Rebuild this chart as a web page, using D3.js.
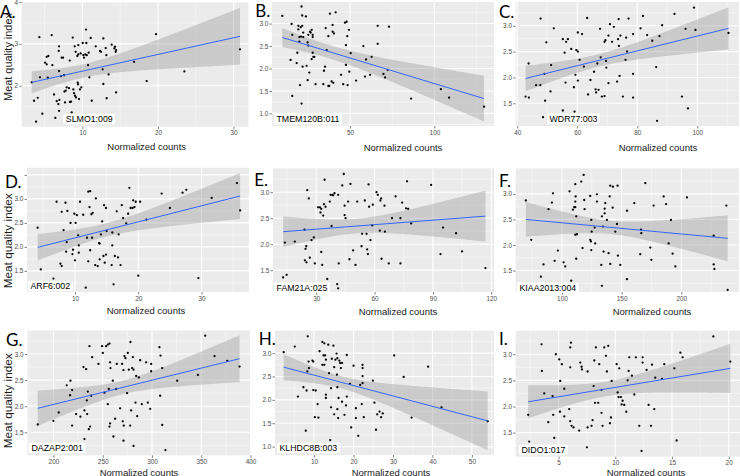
<!DOCTYPE html>
<html><head><meta charset="utf-8">
<script src="https://cdn.jsdelivr.net/npm/d3@7"></script>
<style>body{margin:0;background:#fff}svg{display:block}</style>
</head><body>
<svg id="c" width="740" height="476"></svg>
<script>
// ---------------- DATA ----------------
const pointsA = [[3.30,2.08],[3.61,1.64],[4.10,1.71],[3.88,1.14],[4.32,3.16],[4.40,2.20],[4.71,1.33],[5.07,2.55],[5.29,2.51],[5.29,2.69],[5.51,2.71],[5.42,2.19],[5.95,3.21],[6.04,2.49],[6.26,1.79],[6.43,1.23],[6.61,1.63],[6.83,1.56],[6.92,2.94],[6.88,2.83],[6.92,2.35],[6.92,1.40],[6.96,1.66],[7.27,2.67],[7.45,2.67],[7.18,2.23],[7.58,2.25],[7.63,1.86],[7.80,1.88],[7.71,1.60],[7.93,1.96],[8.24,1.94],[8.33,2.60],[8.37,1.61],[8.51,1.62],[8.59,1.36],[8.73,3.15],[8.81,1.91],[8.90,1.82],[8.99,2.94],[9.03,1.76],[9.12,2.81],[9.16,1.72],[9.34,2.71],[9.39,2.07],[9.43,2.03],[9.47,2.75],[9.47,2.97],[9.56,1.68],[9.69,1.91],[9.78,2.77],[9.87,1.96],[10.05,3.02],[10.14,2.73],[10.22,2.67],[10.40,2.75],[10.49,3.34],[10.53,3.02],[10.58,2.73],[10.76,2.49],[10.93,2.20],[10.84,2.79],[11.11,3.14],[11.24,1.64],[11.77,2.94],[12.34,2.83],[12.47,2.81],[12.69,2.39],[12.78,3.13],[12.78,2.04],[13.09,2.90],[13.18,2.73],[13.22,1.70],[13.48,2.27],[13.88,2.98],[14.24,2.89],[14.32,2.93],[14.41,2.81],[14.46,1.84],[14.46,2.85],[16.84,2.57],[18.51,2.11],[19.75,3.23],[23.50,2.34],[30.86,2.87]];
const pointsB = [[9.9,3.17],[15.4,2.99],[15.8,2.75],[14.8,2.19],[15.8,1.39],[18.4,2.12],[18.8,2.35],[19.4,2.95],[19.4,2.87],[20.0,2.70],[20.0,2.60],[20.4,1.63],[20.8,2.92],[21.0,2.71],[21.3,3.38],[21.3,1.22],[21.7,3.18],[21.7,2.95],[21.9,2.04],[22.3,2.70],[22.3,2.80],[23.9,3.16],[24.3,2.06],[24.9,2.58],[24.9,1.74],[25.3,2.75],[25.3,2.51],[25.9,1.91],[26.3,2.82],[26.7,2.80],[27.3,2.21],[27.3,2.86],[27.9,2.75],[27.9,2.70],[27.9,2.35],[28.3,2.26],[28.9,2.26],[29.6,1.65],[34.2,1.65],[34.6,1.95],[35.2,2.04],[35.6,2.90],[36.2,2.41],[37.2,1.61],[37.2,2.72],[38.1,3.22],[37.7,1.61],[39.1,1.71],[39.7,2.82],[39.7,2.97],[40.5,2.78],[40.1,1.68],[41.5,3.25],[44.7,1.86],[46.0,1.65],[47.0,3.02],[47.6,2.52],[47.6,2.08],[48.0,3.04],[48.4,2.72],[48.6,1.63],[49.4,2.86],[49.6,1.93],[50.4,2.34],[53.6,1.73],[57.9,2.50],[58.9,1.82],[59.5,2.20],[61.9,1.86],[62.8,2.26],[66.4,2.95],[66.4,2.55],[69.8,1.88],[70.8,1.80],[72.3,1.97],[73.1,2.93],[86.2,1.33],[103.8,1.54],[108.7,1.35],[129.4,1.15]];
const pointsC = [[42.8,1.63],[43.9,1.61],[43.8,2.27],[46.3,1.85],[47.7,1.85],[47.8,3.14],[48.6,1.23],[49.1,2.07],[49.3,1.55],[49.7,2.68],[51.1,1.73],[51.3,2.24],[52.2,2.95],[55.2,2.74],[55.2,1.36],[55.8,2.48],[56.1,1.90],[56.3,2.69],[56.9,2.74],[58.0,2.55],[58.9,1.81],[59.1,1.34],[59.4,2.05],[59.7,2.53],[60.2,2.87],[60.2,2.50],[60.2,1.94],[60.8,2.34],[61.6,2.84],[62.2,2.21],[63.3,3.15],[63.6,1.67],[64.4,1.95],[65.6,2.11],[66.1,1.77],[66.3,1.71],[66.7,2.27],[67.1,1.76],[67.6,2.94],[67.8,2.39],[68.2,1.63],[69.1,1.64],[69.1,2.69],[69.4,2.72],[69.6,2.32],[69.7,2.19],[70.4,1.89],[70.4,2.81],[70.9,3.03],[71.6,2.69],[72.2,2.98],[73.3,1.92],[73.6,2.74],[73.8,3.13],[73.9,2.61],[74.1,2.03],[74.4,2.81],[75.2,1.63],[76.1,2.34],[76.3,2.77],[76.6,2.50],[77.1,3.14],[78.6,2.84],[78.6,2.07],[78.6,1.61],[81.1,2.95],[81.9,3.19],[83.3,2.82],[85.0,2.71],[86.3,2.20],[86.6,1.16],[87.4,2.80],[88.3,3.01],[92.4,3.23],[94.9,1.63],[96.1,2.94],[96.9,1.40],[98.9,3.35],[99.4,2.92],[110.4,2.86]];
const pointsD = [[4.1,2.40],[4.6,1.53],[6.6,1.34],[7.1,2.94],[7.7,1.65],[7.9,1.60],[7.9,2.73],[8.2,2.35],[8.5,2.92],[8.6,1.90],[8.7,2.10],[8.8,2.75],[9.3,2.50],[9.6,1.85],[9.7,1.94],[9.9,2.69],[10.0,1.72],[10.1,2.50],[10.3,2.66],[10.5,2.24],[10.6,2.03],[10.6,1.88],[10.8,2.94],[11.3,2.67],[11.7,1.15],[11.9,2.19],[12.1,3.15],[12.4,3.16],[12.1,1.70],[12.3,2.83],[12.4,1.93],[12.6,2.68],[12.8,2.71],[12.7,2.19],[13.2,1.62],[13.3,3.01],[13.6,1.60],[13.8,2.08],[13.9,2.07],[13.9,1.74],[14.1,2.26],[14.3,2.53],[14.5,1.81],[14.6,2.87],[14.7,1.67],[14.9,2.81],[14.9,1.84],[15.0,2.33],[15.8,1.62],[15.9,2.03],[15.9,2.30],[16.1,1.22],[16.3,1.81],[16.6,2.74],[16.8,1.78],[16.9,2.26],[17.2,1.62],[17.4,2.87],[17.6,2.60],[18.1,2.49],[18.4,2.69],[18.6,3.23],[18.8,2.81],[19.1,2.81],[19.2,2.97],[19.4,2.83],[19.6,2.94],[20.0,1.40],[20.3,2.94],[21.3,2.57],[23.7,3.11],[25.0,2.81],[27.0,3.13],[27.6,3.19],[29.5,1.35],[31.6,3.02],[35.6,3.33],[36.1,2.76]];
const pointsE = [[13.0,1.36],[13.9,2.03],[14.8,1.41],[19.0,2.05],[24.0,2.28],[24.2,1.69],[24.5,1.91],[24.9,1.96],[25.0,1.65],[25.4,3.04],[26.2,2.88],[26.7,1.74],[27.6,2.08],[28.8,2.13],[29.3,1.63],[31.0,2.71],[31.9,2.71],[32.2,2.61],[32.6,2.68],[32.6,1.85],[33.1,1.60],[33.6,2.55],[34.0,2.77],[34.3,3.24],[34.8,2.72],[35.7,1.33],[37.0,2.82],[37.4,2.95],[37.9,2.35],[38.2,2.95],[38.7,2.94],[39.4,2.98],[40.8,1.23],[41.3,1.15],[41.3,2.95],[41.6,1.63],[43.4,3.13],[44.2,3.35],[44.6,2.74],[44.6,2.56],[45.1,2.50],[46.4,2.82],[47.1,1.71],[47.6,3.16],[49.0,1.88],[50.2,1.60],[51.1,2.82],[53.3,1.96],[53.6,2.20],[55.0,2.84],[55.9,2.20],[56.2,1.90],[56.6,1.81],[56.9,3.15],[57.2,2.72],[57.9,2.08],[58.8,2.36],[59.1,2.76],[61.0,3.00],[61.7,2.95],[62.7,2.26],[63.0,2.84],[63.4,2.88],[63.6,1.72],[65.1,2.74],[65.3,2.24],[67.3,1.63],[69.0,2.50],[70.8,2.92],[73.3,2.50],[73.3,1.63],[74.2,2.80],[76.2,2.69],[76.7,3.21],[77.3,2.68],[78.8,2.40],[89.1,3.14],[93.9,1.81],[95.2,2.32],[101.9,2.21],[105.0,1.86],[117.0,1.54]];
const pointsF = [[69.8,2.87],[74.3,2.10],[82.4,1.38],[84.6,1.62],[88.8,2.70],[91.6,2.83],[92.5,3.01],[93.9,1.69],[96.6,1.89],[101.4,1.66],[102.8,1.58],[106.4,3.05],[107.8,1.30],[109.2,2.69],[110.3,2.74],[111.2,3.19],[111.2,2.74],[111.2,2.85],[111.5,2.95],[111.2,2.20],[112.0,2.56],[112.6,2.21],[112.0,1.73],[116.2,3.24],[117.3,1.94],[118.2,3.37],[118.7,2.88],[119.0,2.70],[123.7,2.96],[123.7,2.10],[124.3,2.07],[124.6,2.49],[124.9,2.26],[124.6,1.90],[127.4,2.34],[127.9,2.03],[129.3,2.99],[129.3,2.85],[133.0,1.61],[133.5,2.56],[133.5,1.20],[134.4,2.36],[134.9,1.87],[135.8,2.71],[135.8,2.62],[136.3,2.82],[137.7,2.49],[139.1,1.84],[140.0,2.95],[140.5,3.16],[140.5,1.63],[142.5,2.73],[142.7,3.14],[144.7,2.26],[146.1,2.41],[146.6,3.16],[146.9,1.79],[148.9,1.61],[154.5,1.33],[154.5,2.67],[160.6,2.82],[165.6,1.82],[166.2,2.30],[166.5,2.23],[169.8,3.21],[174.0,1.95],[174.9,1.71],[176.8,2.77],[185.2,2.95],[187.2,2.80],[189.4,2.03],[191.3,2.49],[192.7,1.83],[195.0,1.58],[204.7,2.93],[227.1,2.18],[227.1,1.62],[227.7,1.53],[237.7,2.77],[238.8,1.12]];
const pointsG = [[184.1,1.65],[200.0,1.72],[205.4,1.88],[213.5,2.40],[216.9,2.21],[217.3,2.49],[219.0,2.31],[219.0,1.63],[223.0,1.85],[227.4,1.80],[230.5,2.75],[231.5,1.92],[231.5,1.37],[233.2,2.71],[233.9,2.11],[234.2,1.85],[234.9,2.28],[235.9,1.56],[236.6,3.15],[237.2,1.61],[238.3,2.20],[239.3,2.94],[245.7,2.81],[249.4,3.15],[250.1,3.02],[251.8,2.26],[253.5,3.15],[255.2,3.18],[255.2,2.04],[256.2,2.33],[256.9,3.20],[256.9,1.61],[257.5,2.84],[257.9,2.73],[257.5,1.67],[260.3,2.49],[260.9,1.42],[262.6,1.76],[263.6,2.33],[264.3,2.81],[267.7,1.96],[269.7,2.81],[270.4,1.71],[271.1,2.69],[271.1,1.34],[271.4,1.63],[272.1,2.96],[273.1,2.92],[274.8,2.25],[275.5,3.02],[276.5,2.70],[277.9,1.63],[278.2,3.23],[278.9,1.92],[279.9,2.73],[280.6,2.94],[281.3,2.70],[281.3,1.24],[283.3,2.07],[284.0,2.58],[285.0,1.81],[286.7,2.55],[288.0,2.88],[289.7,2.04],[294.1,2.84],[295.8,2.07],[298.2,1.95],[299.2,2.81],[299.2,2.67],[307.6,3.13],[308.3,2.20],[308.7,2.97],[310.4,2.73],[310.4,1.64],[313.7,1.16],[325.6,2.49],[346.6,2.60],[354.0,3.35],[363.5,2.96],[376.4,2.87],[388.9,2.76]];
const pointsH = [[2.3,3.02],[5.1,3.14],[5.9,2.07],[7.3,2.27],[7.9,1.34],[8.1,2.20],[8.3,2.61],[8.4,3.36],[8.6,2.82],[8.7,2.68],[9.6,2.84],[9.8,2.82],[9.8,2.21],[10.2,1.63],[10.4,2.20],[10.9,1.91],[11.1,1.62],[11.4,3.04],[12.1,3.24],[12.1,2.75],[12.4,2.95],[12.6,2.75],[12.6,3.21],[12.8,2.95],[13.0,2.86],[13.0,2.04],[13.0,2.11],[13.6,3.18],[13.8,2.57],[14.1,1.14],[14.3,2.25],[14.3,1.84],[14.5,2.88],[14.9,3.16],[15.1,1.69],[15.1,2.70],[15.4,2.86],[15.7,2.99],[15.8,2.54],[15.9,2.89],[15.9,2.27],[15.9,1.80],[16.1,1.61],[16.2,2.04],[16.4,2.84],[16.6,2.79],[16.8,2.68],[17.1,2.79],[17.1,1.96],[17.7,1.68],[18.1,1.88],[18.3,2.07],[18.3,2.96],[19.1,2.34],[19.4,1.41],[20.0,2.73],[20.6,1.82],[20.6,1.61],[21.2,1.23],[21.7,2.32],[22.1,1.91],[22.3,2.75],[22.3,2.68],[22.3,2.51],[22.3,2.36],[22.6,1.63],[24.9,2.41],[25.3,1.94],[25.7,1.36],[26.0,1.69],[26.6,1.75],[27.0,1.63],[27.4,1.71],[30.3,2.95],[32.7,2.49],[34.7,1.62],[38.9,2.71],[42.3,1.84],[54.0,1.54]];
const pointsI = [[2.32,1.84],[2.41,1.33],[3.50,3.19],[3.53,2.68],[3.74,2.25],[4.09,1.70],[4.47,2.20],[4.53,1.84],[4.62,1.40],[4.76,3.00],[5.06,2.90],[5.12,1.90],[5.15,2.49],[5.29,2.81],[5.50,2.34],[5.50,1.81],[5.94,1.95],[6.03,3.13],[6.09,3.22],[6.03,2.75],[6.03,1.72],[6.15,1.63],[6.32,1.60],[6.82,1.54],[6.91,2.84],[7.03,2.76],[7.06,2.71],[7.50,1.22],[7.56,2.67],[7.56,1.60],[7.91,1.63],[8.00,1.74],[8.09,2.39],[8.15,2.88],[8.21,2.07],[8.29,3.13],[8.50,2.07],[8.59,2.81],[8.79,2.32],[8.79,1.88],[8.88,1.63],[9.03,3.13],[9.18,2.97],[9.26,2.67],[9.38,3.16],[9.53,1.68],[9.62,1.79],[9.68,2.49],[10.12,2.81],[10.21,2.27],[10.29,2.18],[10.35,2.73],[10.50,2.18],[10.56,2.04],[10.65,2.11],[10.79,2.03],[10.97,1.90],[11.09,2.50],[11.18,2.68],[11.24,2.94],[11.47,2.59],[11.68,2.23],[11.82,2.94],[12.12,1.63],[12.32,1.15],[12.41,2.94],[12.41,2.84],[12.76,2.70],[12.94,2.03],[13.15,1.63],[13.24,2.80],[13.44,1.95],[13.53,2.55],[14.12,2.53],[14.32,2.81],[15.21,2.73],[15.41,1.35],[15.74,3.03],[15.94,2.94],[18.65,3.34],[20.15,2.86]];

// linear fits: [x start, x end, y start, y end, x mean, CI half-width at mean, CI half-width at right end]
const fitA = [3.30, 30.86, 2.08, 3.18, 10, 0.16, 0.68];
const fitB = [9.9, 129.4, 2.69, 1.33, 38, 0.15, 0.51];
const fitC = [42.8, 110.4, 1.98, 2.95, 67, 0.12, 0.41];
const fitD = [4.1, 36.1, 1.99, 3.06, 15, 0.14, 0.48];
const fitE = [13.0, 117.0, 2.24, 2.54, 50, 0.14, 0.49];
const fitF = [69.8, 238.8, 2.50, 2.13, 141, 0.13, 0.45];
const fitG = [184.1, 388.9, 1.96, 2.91, 270, 0.13, 0.45];
const fitH = [2.3, 54.0, 2.70, 1.55, 17, 0.13, 0.63];
const fitI = [2.32, 20.15, 2.09, 2.73, 9.2, 0.14, 0.47];

// axis domains and ticks
const xDomains = {A:[1.98,31.98],B:[3.8,135.3],C:[39.5,113.9],D:[2.42,37.5],E:[7.8,121.4],F:[61.3,248.3],G:[173.5,400.5],H:[0.1,55.6],I:[1.22,21.0]};
const yDomains = {A:[1.02,4.0],B:[0.72,3.48],C:[1.06,3.46],D:[1.06,3.65],E:[1.08,3.46],F:[1.08,3.50],G:[1.06,3.45],H:[0.82,3.48],I:[1.04,3.45]};
const xTicks = {A:[10,20,30],B:[50,100],C:[40,60,80,100],D:[10,20,30],E:[30,60,90,120],F:[100,150,200],G:[200,250,300,350,400],H:[10,20,30,40,50],I:[5,10,15,20]};
const yTicks = {A:[2,3,4],B:[1.0,1.5,2.0,2.5,3.0],C:[1.5,2.0,2.5,3.0],D:[1.5,2.0,2.5,3.0,3.5],E:[1.5,2.0,2.5,3.0],F:[1.5,2.0,2.5,3.0],G:[1.5,2.0,2.5,3.0],H:[1.0,1.5,2.0,2.5,3.0],I:[1.5,2.0,2.5,3.0]};
const geneLabels = {A:"SLMO1:009",B:"TMEM120B:011",C:"WDR77:003",D:"ARF6:002",E:"FAM21A:025",F:"KIAA2013:004",G:"DAZAP2:001",H:"KLHDC8B:003",I:"DIDO1:017"};
const xTitle = "Normalized counts";
const yTitle = "Meat quality index";

// ---------------- LAYOUT ----------------
const layout = {
  A:{r:[21.7,248.5,2,126.7],   letter:[0,18.3],    lab:[63.3,119],  xt:[146.7,150], yt:[8.3,57,10.9],  yFmt:"d"},
  B:{r:[272,494,2,126],        letter:[255.3,16.7],lab:[274,119],   xt:[403,150.5]},
  C:{r:[515.7,739,2,126],      letter:[499,18.3],  lab:[547,118.5], xt:[658,150.5]},
  D:{r:[27,249,167.7,292],     letter:[5,187.8],   lab:[28,286],    xt:[146,313.5], yt:[8.3,240.8,11.8], hideY:[3.5]},
  E:{r:[273,494,168.3,292],    letter:[254.3,185.6],lab:[274,287.5],xt:[398,314.5]},
  F:{r:[515.7,739,168.3,292],  letter:[499,187.2], lab:[517,287.5], xt:[652,314.5]},
  G:{r:[27.3,251,330.5,455.3], letter:[6,346],     lab:[29,448],    xt:[139,475.5], yt:[8.3,400.8,11.8]},
  H:{r:[275,494,330.7,455],    letter:[258.7,345], lab:[277,448],   xt:[391,475.5]},
  I:{r:[515.7,740,330.7,456.7],letter:[499,345],   lab:[519,450],   xt:[646,475.5]}
};
const panels = [
  ["A",pointsA,fitA],["B",pointsB,fitB],["C",pointsC,fitC],
  ["D",pointsD,fitD],["E",pointsE,fitE],["F",pointsF,fitF],
  ["G",pointsG,fitG],["H",pointsH,fitH],["I",pointsI,fitI]
];

const FONT = "'Liberation Sans', Arial, sans-serif";
const svg = d3.select("#c");
svg.append("rect").attr("width",740).attr("height",476).attr("fill","#fff");
const defs = svg.append("defs");

function minorBreaks(ticks, dom){
  const s = ticks.length > 1 ? ticks[1]-ticks[0] : 1;
  const lo = Math.min(...dom), hi = Math.max(...dom), out = [];
  for (let v = ticks[0]-s/2; v <= hi + 1e-9; v += s) if (v >= lo) out.push(v);
  return out;
}

panels.forEach(([id, pts, fit]) => {
  const L = layout[id];
  const [x0,x1,y0,y1] = L.r;
  const x = d3.scaleLinear().domain(xDomains[id]).range([x0,x1]);
  const y = d3.scaleLinear().domain(yDomains[id]).range([y1,y0]);
  const g = svg.append("g");
  defs.append("clipPath").attr("id","clip"+id).append("rect")
    .attr("x",x0).attr("y",y0).attr("width",x1-x0).attr("height",y1-y0);

  g.append("rect").attr("x",x0).attr("y",y0).attr("width",x1-x0).attr("height",y1-y0).attr("fill","#EBEBEB");

  const grid = g.append("g").attr("clip-path","url(#clip"+id+")");
  minorBreaks(xTicks[id], xDomains[id]).forEach(v => grid.append("line")
    .attr("x1",x(v)).attr("x2",x(v)).attr("y1",y0).attr("y2",y1).attr("stroke","#fff").attr("stroke-width",0.5).attr("stroke-opacity",0.8));
  minorBreaks(yTicks[id], yDomains[id]).forEach(v => grid.append("line")
    .attr("y1",y(v)).attr("y2",y(v)).attr("x1",x0).attr("x2",x1).attr("stroke","#fff").attr("stroke-width",0.5).attr("stroke-opacity",0.8));
  xTicks[id].forEach(v => grid.append("line")
    .attr("x1",x(v)).attr("x2",x(v)).attr("y1",y0).attr("y2",y1).attr("stroke","#fff").attr("stroke-width",1.1));
  yTicks[id].forEach(v => grid.append("line")
    .attr("y1",y(v)).attr("y2",y(v)).attr("x1",x0).attr("x2",x1).attr("stroke","#fff").attr("stroke-width",1.1));

  // regression band + line
  const [fx0,fx1,fy0,fy1,xbar,hwMid,hwEnd] = fit;
  const b = (hwEnd*hwEnd - hwMid*hwMid) / ((fx1-xbar)*(fx1-xbar));
  const yFit = v => fy0 + (fy1-fy0)*(v-fx0)/(fx1-fx0);
  const hw = v => Math.sqrt(hwMid*hwMid + b*(v-xbar)*(v-xbar));
  const xs = d3.range(0,121).map(i => fx0 + (fx1-fx0)*i/120);
  const plot = g.append("g").attr("clip-path","url(#clip"+id+")");
  plot.append("path").datum(xs)
    .attr("d", d3.area().x(v=>x(v)).y0(v=>y(yFit(v)-hw(v))).y1(v=>y(yFit(v)+hw(v))))
    .attr("fill","#999999").attr("fill-opacity",0.4);
  plot.selectAll("circle").data(pts).join("circle")
    .attr("cx",d=>x(d[0])).attr("cy",d=>y(d[1])).attr("r",1.15).attr("fill","#000");
  plot.append("path").datum([fx0,fx1])
    .attr("d", d3.line().x(v=>x(v)).y(v=>y(yFit(v))))
    .attr("stroke","#3366FF").attr("stroke-width",1).attr("fill","none");

  // axes
  const fmtY = L.yFmt === "d" ? d3.format("d") : d3.format(".1f");
  const hide = L.hideY || [];
  const ax = g.append("g").attr("transform",`translate(0,${y1})`)
    .call(d3.axisBottom(x).tickValues(xTicks[id]).tickSize(2.5).tickSizeOuter(0).tickPadding(1.5).tickFormat(d3.format("d")));
  const ay = g.append("g").attr("transform",`translate(${x0},0)`)
    .call(d3.axisLeft(y).tickValues(yTicks[id]).tickSize(2.5).tickSizeOuter(0).tickPadding(1.2)
      .tickFormat(v => hide.includes(v) ? "" : fmtY(v)));
  [ax,ay].forEach(a => {
    a.select(".domain").remove();
    a.selectAll(".tick line").attr("stroke","#333").attr("stroke-width",0.6);
    a.selectAll(".tick text").attr("fill","#4D4D4D").style("font-family",FONT).style("font-size","6.4px");
  });

  // gene label box
  const lg = svg.append("g");
  const t = lg.append("text").attr("x",L.lab[0]+2.5).attr("y",L.lab[1]).attr("dy","0.35em")
    .style("font-family",FONT).style("font-size","8.8px").attr("fill","#000").text(geneLabels[id]);
  const w = t.node().getComputedTextLength();
  lg.insert("rect","text").attr("x",L.lab[0]).attr("y",L.lab[1]-5.3).attr("width",w+5).attr("height",10.6)
    .attr("rx",1.5).attr("fill","#fff");

  // axis titles
  svg.append("text").attr("x",L.xt[0]).attr("y",L.xt[1]).attr("text-anchor","middle")
    .style("font-family",FONT).style("font-size","9.5px").attr("fill","#1a1a1a").text(xTitle);
  if (L.yt) {
    svg.append("text").attr("transform",`translate(${L.yt[0]},${L.yt[1]}) rotate(-90)`)
      .attr("text-anchor","middle").attr("dy","0.35em")
      .style("font-family",FONT).style("font-size",L.yt[2]+"px").attr("fill","#1a1a1a").text(yTitle);
  }
  // panel letter
  svg.append("text").attr("x",L.letter[0]).attr("y",L.letter[1])
    .style("font-family","Lato, 'Open Sans', sans-serif").style("font-size","17px").attr("fill","#000").text(id+".");
});
</script>
</body></html>
